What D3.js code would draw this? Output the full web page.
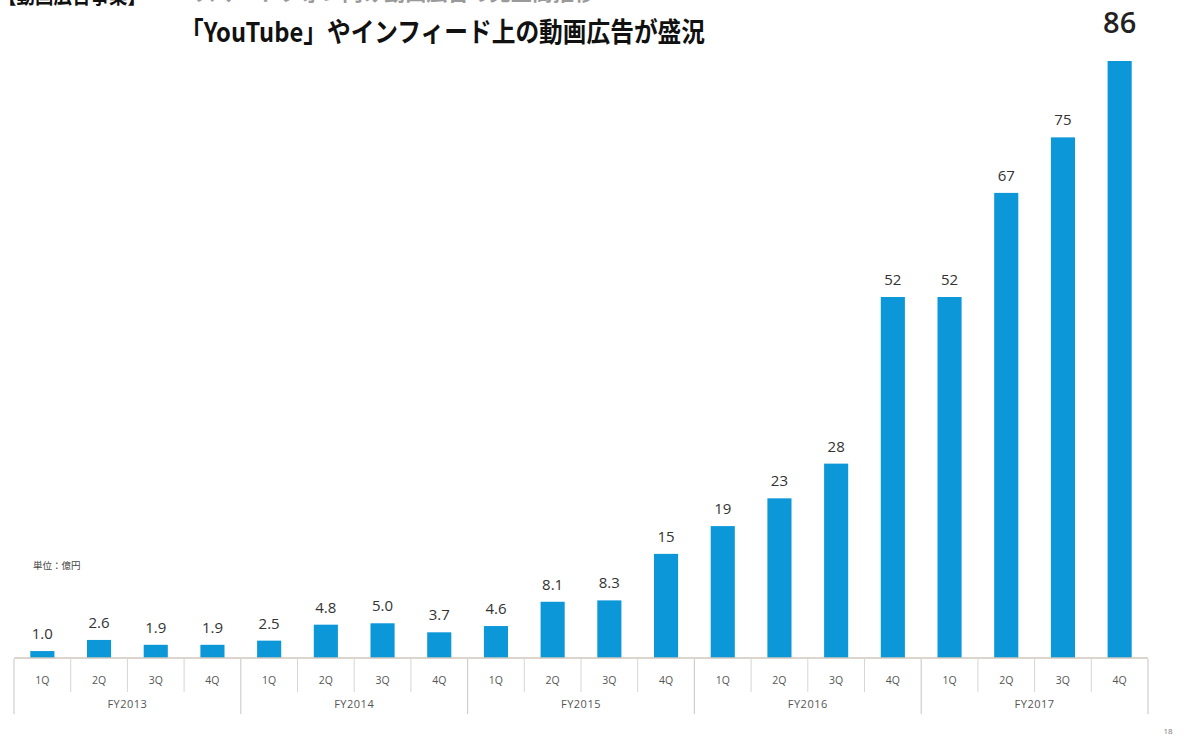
<!DOCTYPE html>
<html>
<head>
<meta charset="utf-8">
<script src="https://cdn.jsdelivr.net/npm/d3@7"></script>
<style>
  html, body { margin: 0; padding: 0; background: #fff; }
  svg { display: block; }
</style>
</head>
<body>
<svg id="chart" width="1186" height="742"></svg>
<script>
// Quarterly video ad revenue (unit: 100 million yen)
const years = ["FY2013", "FY2014", "FY2015", "FY2016", "FY2017"];
const quarters = ["1Q", "2Q", "3Q", "4Q"];
const values = [
  1.0, 2.6, 1.9, 1.9,
  2.5, 4.8, 5.0, 3.7,
  4.6, 8.1, 8.3, 15,
  19, 23, 28, 52,
  52, 67, 75, 86
];
const titleText = "「YouTube」やインフィード上の動画広告が盛況";
const headerText = "【動画広告事業】";
const subHeaderText = "スマートフォン向け動画広告の売上高推移";
const unitText = "単位：億円";
const pageNumber = "18";

const rows = [];
years.forEach((y, yi) => quarters.forEach((q, qi) => {
  rows.push({ key: y + "-" + q, year: y, quarter: q, value: values[yi * 4 + qi] });
}));

const svg = d3.select("#chart");
const left = 14, right = 1148, baseY = 658, topY = 61;
const barColor = "#0b97d8";
const sansFont = "'Open Sans', 'Noto Sans', sans-serif";
const jpFont = "'Noto Sans CJK JP', sans-serif";

const x = d3.scaleBand()
  .domain(rows.map(d => d.key))
  .range([left, right])
  .paddingInner(0.575)
  .paddingOuter(0.2875);

const yearScale = d3.scaleBand().domain(years).range([left, right]);

const y = d3.scaleLinear().domain([0, d3.max(values)]).range([baseY, topY]);

// Heading lines running off the top edge
svg.append("text")
  .attr("x", -2).attr("y", 3)
  .attr("font-family", jpFont).attr("font-weight", 700)
  .attr("font-size", 22).attr("fill", "#111")
  .attr("textLength", 148).attr("lengthAdjust", "spacingAndGlyphs")
  .text(headerText);
svg.append("text")
  .attr("x", 195).attr("y", 1)
  .attr("font-family", jpFont).attr("font-weight", 700)
  .attr("font-size", 20).attr("fill", "#9a9a9a")
  .attr("textLength", 400).attr("lengthAdjust", "spacingAndGlyphs")
  .text(subHeaderText);

// Title
svg.append("text")
  .attr("x", 180).attr("y", 42)
  .attr("font-family", jpFont).attr("font-weight", 700)
  .attr("font-size", 27).attr("fill", "#111")
  .attr("textLength", 525).attr("lengthAdjust", "spacingAndGlyphs")
  .text(titleText);

// Bars
svg.append("g").selectAll("rect")
  .data(rows)
  .join("rect")
  .attr("x", d => x(d.key))
  .attr("width", x.bandwidth())
  .attr("y", d => y(d.value))
  .attr("height", d => baseY - y(d.value))
  .attr("fill", barColor);

// Value labels
const fmt = v => v < 10 ? d3.format(".1f")(v) : d3.format("d")(v);
const last = rows[rows.length - 1];
svg.append("g").selectAll("text")
  .data(rows.filter(d => d !== last))
  .join("text")
  .attr("x", d => x(d.key) + x.bandwidth() / 2)
  .attr("y", d => y(d.value) - 12)
  .attr("text-anchor", "middle")
  .attr("font-family", sansFont)
  .attr("font-size", 15)
  .attr("fill", "#333")
  .text(d => fmt(d.value));

svg.append("text")
  .attr("x", x(last.key) + x.bandwidth() / 2)
  .attr("y", 33)
  .attr("text-anchor", "middle")
  .attr("font-family", sansFont)
  .attr("font-weight", 600)
  .attr("font-size", 29)
  .attr("fill", "#222")
  .text(fmt(last.value));

// Baseline
svg.append("line")
  .attr("x1", left).attr("x2", right)
  .attr("y1", baseY).attr("y2", baseY)
  .attr("stroke", "#cfc7bd").attr("stroke-width", 1.5);

// Quarter separators
const step = x.step();
const qSep = d3.range(1, rows.length).filter(i => i % 4 !== 0);
svg.append("g").selectAll("line")
  .data(qSep)
  .join("line")
  .attr("x1", i => left + i * step).attr("x2", i => left + i * step)
  .attr("y1", baseY + 1).attr("y2", baseY + 34)
  .attr("stroke", "#d6d6d6").attr("stroke-width", 1);

// Year separators
svg.append("g").selectAll("line")
  .data(d3.range(0, years.length + 1))
  .join("line")
  .attr("x1", i => left + i * yearScale.step()).attr("x2", i => left + i * yearScale.step())
  .attr("y1", baseY + 1).attr("y2", baseY + 56)
  .attr("stroke", "#cfcfcf").attr("stroke-width", 1.2);

// Quarter labels
svg.append("g").selectAll("text")
  .data(rows)
  .join("text")
  .attr("x", d => x(d.key) + x.bandwidth() / 2)
  .attr("y", 684)
  .attr("text-anchor", "middle")
  .attr("font-family", sansFont)
  .attr("font-size", 10.5)
  .attr("fill", "#555")
  .text(d => d.quarter);

// Year labels
svg.append("g").selectAll("text")
  .data(years)
  .join("text")
  .attr("x", d => yearScale(d) + yearScale.bandwidth() / 2)
  .attr("y", 708)
  .attr("text-anchor", "middle")
  .attr("font-family", sansFont)
  .attr("font-size", 11)
  .attr("letter-spacing", 0.5)
  .attr("fill", "#555")
  .text(d => d);

// Unit note
svg.append("text")
  .attr("x", 33).attr("y", 569)
  .attr("font-family", jpFont)
  .attr("font-size", 9.5)
  .attr("fill", "#444")
  .text(unitText);

// Page number
svg.append("text")
  .attr("x", 1168).attr("y", 734)
  .attr("text-anchor", "middle")
  .attr("font-family", sansFont)
  .attr("font-size", 8)
  .attr("fill", "#777")
  .text(pageNumber);
</script>
</body>
</html>
